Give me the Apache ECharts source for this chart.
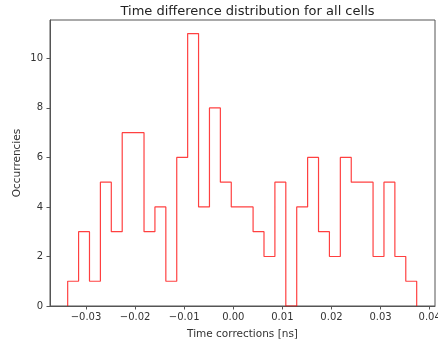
<!DOCTYPE html>
<html>
<head>
<meta charset="utf-8">
<script src="https://cdn.jsdelivr.net/npm/echarts@6/dist/echarts.min.js"></script>
<style>html,body{margin:0;padding:0;background:#fff}#c{width:438px;height:342px}</style>
</head>
<body>
<div id="c"></div>
<script>
// Histogram bin counts (32 bins)
const counts = [1,3,1,5,3,7,7,3,4,1,6,11,4,8,5,4,4,3,2,5,0,4,6,3,2,6,5,5,2,5,2,1];
const firstEdge = -0.03373;
const lastEdge = 0.03735;
const xTicks = [-0.03,-0.02,-0.01,0.00,0.01,0.02,0.03,0.04];
const yTicks = [0,2,4,6,8,10];

const binW = (lastEdge - firstEdge) / counts.length;
const edges = counts.map((_, i) => firstEdge + i * binW).concat([lastEdge]);
const pts = [[edges[0], 0]];
counts.forEach((c, i) => { pts.push([edges[i], c]); pts.push([edges[i + 1], c]); });
pts.push([edges[edges.length - 1], 0]);

const font = 'DejaVu Sans';
const chart = echarts.init(document.getElementById('c'), null, {renderer: 'canvas'});
chart.setOption({
  animation: false,
  title: {
    text: 'Time difference distribution for all cells',
    left: 242.5, top: 0, textAlign: 'center',
    textStyle: {fontFamily: font, fontSize: 13, fontWeight: 'normal', color: '#222'}
  },
  grid: {left: 50, right: 3, top: 20, bottom: 36, show: true, borderColor: '#555', borderWidth: 1,
    backgroundColor: 'transparent', containLabel: false, outerBoundsMode: 'none'},
  xAxis: {
    type: 'value', min: -0.03733, max: 0.04108,
    name: 'Time corrections [ns]', nameLocation: 'middle', nameGap: 23, nameMoveOverlap: false,
    nameTextStyle: {fontFamily: font, fontSize: 10.5, color: '#333'},
    axisLine: {show: true, onZero: false, lineStyle: {color: '#555', width: 1}},
    axisTick: {show: true, length: 3.5, lineStyle: {color: '#555'}, customValues: xTicks},
    axisLabel: {fontFamily: font, fontSize: 10, color: '#333', margin: 6, customValues: xTicks,
      formatter: v => (v < 0 ? '\u2212' : '') + Math.abs(v).toFixed(2)},
    splitLine: {show: false}
  },
  yAxis: {
    type: 'value', min: 0, max: 11.55,
    name: 'Occurrencies', nameLocation: 'middle', nameGap: 27, nameRotate: 90, nameMoveOverlap: false,
    nameTextStyle: {fontFamily: font, fontSize: 10.5, color: '#333'},
    axisLine: {show: true, onZero: false, lineStyle: {color: '#555', width: 1}},
    axisTick: {show: true, length: 3.5, lineStyle: {color: '#555'}, customValues: yTicks},
    axisLabel: {fontFamily: font, fontSize: 10, color: '#333', margin: 7, customValues: yTicks},
    splitLine: {show: false}
  },
  series: [{
    type: 'line', data: pts, showSymbol: false, symbol: 'none',
    lineStyle: {color: 'rgba(255,0,0,0.75)', width: 1.2}, z: 3
  }]
});
</script>
</body>
</html>
